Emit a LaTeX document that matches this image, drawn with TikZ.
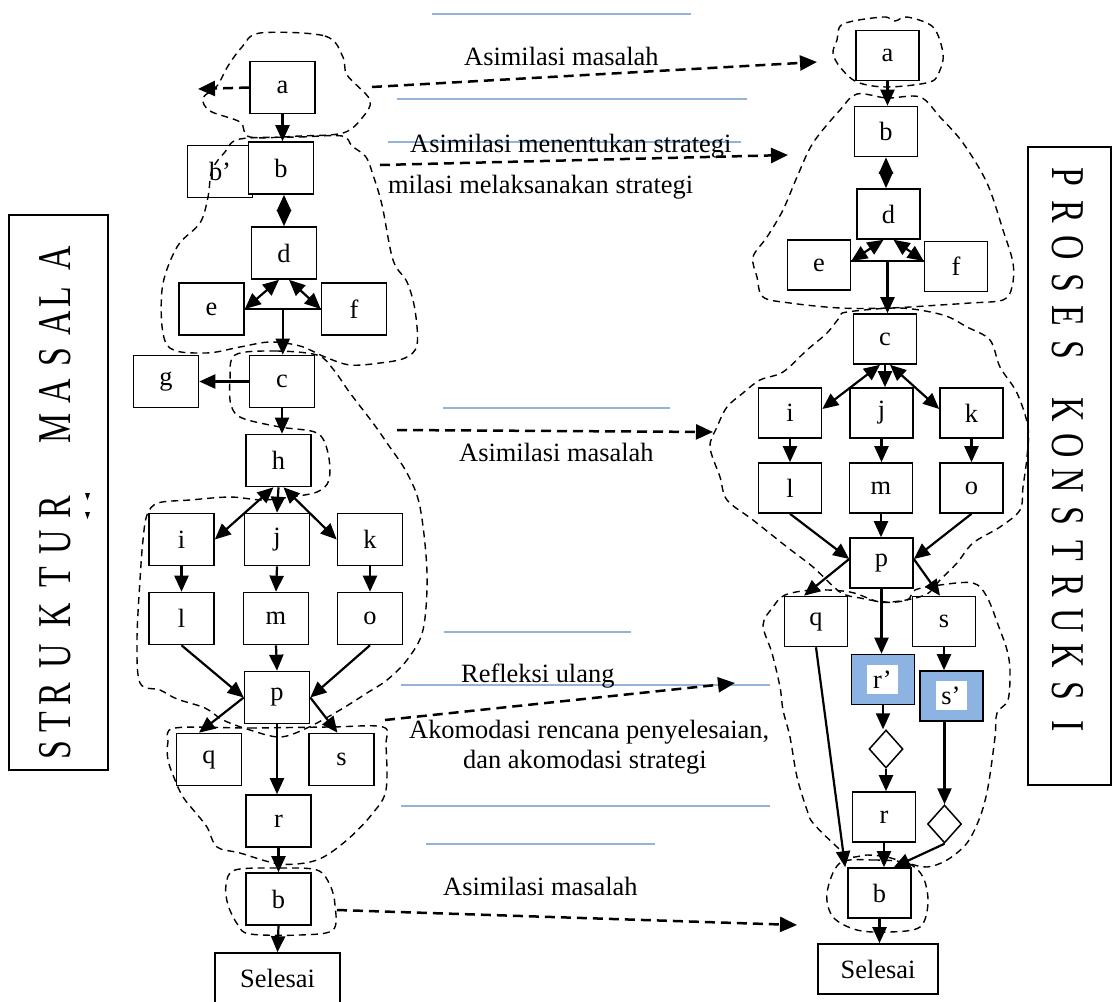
\documentclass[tikz,border=0pt]{standalone}
\usepackage{fontspec}
\setmainfont{Liberation Serif}
\usetikzlibrary{arrows.meta,shapes.geometric,calc}
\definecolor{lineblue}{RGB}{149,179,215}
\definecolor{fillblue}{RGB}{141,179,226}
\newcommand\lblfont{\fontsize{26.4}{30}\selectfont}
\newcommand\sidefont{\fontsize{47}{50}\selectfont}
\begin{document}
\begin{tikzpicture}[x=1pt,y=-1pt,
  box/.style={draw, line width=1.6pt, fill=white, inner sep=0pt, font=\lblfont, minimum width=65pt, minimum height=52pt},
  rbox/.style={box, minimum width=63pt, minimum height=50pt},
  bluebox/.style={rbox, fill=fillblue},
  inlay/.style={fill=white, inner sep=0pt, font=\lblfont, minimum width=31pt, minimum height=29pt},
  dia/.style={draw, diamond, line width=1.5pt, fill=white, inner sep=0pt, minimum width=34pt, minimum height=38pt},
  conn/.style={line width=2.2pt, -{Triangle[length=16pt,width=14pt]}},
  biconn/.style={line width=2.2pt, {Triangle[length=16pt,width=14pt]}-{Triangle[length=16pt,width=14pt]}},
  link/.style={line width=2.2pt},
  flow/.style={line width=2.5pt, dash pattern=on 10pt off 6pt, -{Triangle[length=17pt,width=15pt]}},
  group/.style={line width=1.4pt, dash pattern=on 7pt off 5pt, smooth cycle, tension=0.55},
  rule/.style={line width=2pt, draw=lineblue},
  caption/.style={font=\lblfont, inner sep=0pt, anchor=base west},
  sideletter/.style={font=\sidefont, inner sep=0pt},
  frame/.style={draw, line width=1.5pt, inner sep=0pt},
]
\useasboundingbox (0,0) rectangle (1112,1002);

% side frames with spaced vertical titles
\node[frame, minimum width=99pt, minimum height=555pt] (leftframe) at (58.5,492.5) {};
\node[frame, minimum width=83pt, minimum height=638pt] (rightframe) at (1069.5,466) {};
\foreach \ch/\yy [count=\n] in {S/750,T/722,R/694,U/656,K/615,T/577,U/542,R/507,M/428,A/391,S/357,A/323,L/297,A/258}
  \node[sideletter, rotate=90] (ltitle\n) at (55,\yy) {\scalebox{0.72}[1]{\ch}};
\foreach \ch/\yy [count=\n] in {P/177,R/212,O/248,S/283,E/316,S/350,K/410,O/446,N/481,S/516,T/551,R/586,U/621,K/656,S/691,I/726}
  \node[sideletter, rotate=-90] (rtitle\n) at (1068,\yy) {\scalebox{0.72}[1]{\ch}};
\fill (85,493) -- (90,493) -- (87.5,500) -- cycle;
\fill (85,512) -- (90,512) -- (87.5,519) -- cycle;

% blue rules
\draw[rule] (432,14) -- (691,14);
\draw[rule] (397,99) -- (747,99);
\draw[rule] (388,142) -- (741,142);
\draw[rule] (443,408) -- (670,408);
\draw[rule] (444,632) -- (631,632);
\draw[rule] (401,685) -- (770,685);
\draw[rule] (401,806) -- (770,806);
\draw[rule] (426,844) -- (655,844);

% captions
\node[caption] (c1) at (464,65) {Asimilasi masalah};
\node[caption] (c2) at (410,152) {Asimilasi menentukan strategi};
\node[caption] (c3) at (388,193) {milasi melaksanakan strategi};
\node[caption] (c4) at (459,461) {Asimilasi masalah};
\node[caption] (c5) at (461,682) {Refleksi ulang};
\node[caption] (c6) at (409,738) {Akomodasi rencana penyelesaian,};
\node[caption] (c7) at (463,768) {dan akomodasi strategi};
\node[caption] (c8) at (443,895) {Asimilasi masalah};

% left structure
\node[box] (La) at (282.5,87.5) {a};
\node[box] (Lbq) at (220,171.5) {b’};
\node[box] (Lb) at (281,168) {b};
\node[box] (Ld) at (284,253) {d};
\node[box] (Le) at (211.5,309) {e};
\node[box] (Lf) at (354,309) {f};
\node[box] (Lc) at (282,381.5) {c};
\node[box] (Lg) at (166,381.5) {g};
\node[box] (Lh) at (278.5,460.5) {h};
\node[box] (Li) at (181.5,539.5) {i};
\node[box] (Lj) at (277,539.5) {j};
\node[box] (Lk) at (370,539.5) {k};
\node[box] (Ll) at (181.5,618.5) {l};
\node[box] (Lm) at (276,618.5) {m};
\node[box] (Lo) at (370,618.5) {o};
\node[box] (Lp) at (277,697.5) {p};
\node[box] (Lq) at (209,759.5) {q};
\node[box] (Ls) at (341.5,759.5) {s};
\node[box] (Lr) at (278.5,821) {r};
\node[box] (Lb2) at (278.5,899) {b};
\node[box, minimum width=125pt, minimum height=50pt] (Lend) at (277.5,978) {Selesai};

\draw[conn] (La.south) -- (La.south |- Lb.north);
\draw[biconn] (Ld.north |- Lb.south) -- (Ld.north);
\draw[link] (Le.east) -- (Lf.west);
\draw[biconn] ([xshift=-5pt]Ld.south) -- (Le.east);
\draw[biconn] ([xshift=5pt]Ld.south) -- (Lf.west);
\coordinate (Ldef) at ($(Le.east)!0.5!(Lf.west)$);
\draw[conn] (Ldef) -- (Ldef |- Lc.north);
\draw[conn] (Lc.west) -- (Lg.east);
\draw[conn] (Lc.south) -- (Lc.south |- Lh.north);
\draw[biconn] ([xshift=-5pt]Lh.south) -- (Li.east);
\draw[conn] (Lh.south) -- (Lj.north);
\draw[biconn] ([xshift=5pt]Lh.south) -- (Lk.west);
\draw[conn] (Li.south) -- (Ll.north);
\draw[conn] (Lj.south) -- (Lm.north);
\draw[conn] (Lk.south) -- (Lo.north);
\draw[conn] (Ll.south) -- (Lp.west);
\draw[conn] (Lm.south) -- (Lp.north);
\draw[conn] (Lo.south) -- (Lp.east);
\draw[conn] (Lp.west) -- ([xshift=-10pt]Lq.north);
\draw[conn] (Lp.east) -- ([xshift=-4pt]Ls.north);
\draw[conn] (Lp.south) -- (Lp.south |- Lr.north);
\draw[conn] (Lr.south) -- (Lb2.north);
\draw[conn] (Lb2.south) -- (Lend.north);

% right construction
\node[rbox] (Ra) at (887.5,55.5) {a};
\node[rbox] (Rb) at (886,131.5) {b};
\node[rbox] (Rd) at (888.5,214) {d};
\node[rbox] (Re) at (819,265) {e};
\node[rbox] (Rf) at (956,266.5) {f};
\node[rbox] (Rc) at (885,339) {c};
\node[rbox] (Ri) at (790,413) {i};
\node[rbox] (Rj) at (881.5,413) {j};
\node[rbox] (Rk) at (971.5,413) {k};
\node[rbox] (Rl) at (790,488) {l};
\node[rbox] (Rm) at (881,488) {m};
\node[rbox] (Ro) at (971.5,488) {o};
\node[rbox] (Rp) at (881.5,563) {p};
\node[rbox] (Rq) at (816,621.5) {q};
\node[rbox] (Rs) at (944,621.5) {s};
\node[bluebox] (Rrp) at (883,679.5) {};
\node[inlay] (Rrpt) at (882.5,679.5) {r’};
\node[bluebox] (Rsp) at (951.5,696) {};
\node[inlay] (Rspt) at (951,695.5) {s’};
\node[dia] (Rk1) at (886,749) {};
\node[rbox] (Rr) at (884,817) {r};
\node[dia] (Rk2) at (944.5,824) {};
\node[rbox] (Rb2) at (879.5,893) {b};
\node[rbox, minimum width=120pt] (Rend) at (878,969) {Selesai};

\draw[conn] (Ra.south) -- (Ra.south |- Rb.north);
\draw[line width=2.2pt, {Triangle[length=16.5pt,width=14pt]}-{Triangle[length=16.5pt,width=14pt]}] (Rb.south) -- (Rb.south |- Rd.north);
\coordinate (Reo) at ([yshift=4pt]Re.east);
\coordinate (Rfo) at (Rf.west |- Reo);
\draw[link] (Reo) -- (Rfo);
\draw[biconn] ([xshift=-5pt]Rd.south) -- (Reo);
\draw[biconn] ([xshift=5pt]Rd.south) -- (Rfo);
\coordinate (Rdef) at ($(Reo)!0.5!(Rfo)$);
\draw[conn] (Rdef) -- (Rdef |- Rc.north);
\draw[biconn] ([xshift=-5pt]Rc.south) -- ([yshift=4pt]Ri.east);
\draw[conn] (Rc.south) -- (Rc.south |- Rj.north);
\draw[biconn] ([xshift=5pt]Rc.south) -- ([yshift=4pt]Rk.west);
\draw[conn] (Ri.south) -- (Rl.north);
\draw[conn] (Rj.south) -- (Rj.south |- Rm.north);
\draw[conn] (Rk.south) -- (Ro.north);
\draw[conn] (Rl.south) -- ([yshift=4pt]Rp.west);
\draw[conn] (Rm.south) -- (Rm.south |- Rp.north);
\draw[conn] (Ro.south) -- ([yshift=4pt]Rp.east);
\draw[conn] ([yshift=4pt]Rp.west) -- ([xshift=-12pt]Rq.north);
\draw[conn] ([yshift=4pt]Rp.east) -- ([xshift=-4pt]Rs.north);
\draw[conn] (Rp.south) -- (Rp.south |- Rrp.north);
\draw[conn] (Rs.south) -- (Rs.south |- Rsp.north);
\draw[conn] (Rrp.south) -- (Rrp.south |- Rk1.north);
\draw[conn] (Rk1.south) -- (Rk1.south |- Rr.north);
\draw[conn] (Rk2.north |- Rsp.south) -- (Rk2.north);
\draw[conn] (Rr.south) -- (Rr.south |- Rb2.north);
\draw[conn] (Rq.south) -- ([xshift=-2pt]Rb2.north west);
\draw[conn] (Rk2.south) -- ([xshift=-18pt]Rb2.north east);
\draw[conn] (Rb2.south) -- (Rb2.south |- Rend.north);

% grouping outlines
\draw[group] plot coordinates {(260,33) (325,36) (343,57) (347,75) (370,100) (362,118) (343,133) (300,136) (250,137) (240,122) (210,111) (203,98) (217,86) (228,66) (242,47)};
\draw[group] plot coordinates {(240,139) (300,137) (342,136) (352,146) (366,157) (373,175) (382,205) (393,260) (407,282) (415,310) (417,345) (405,358) (380,363) (350,365) (325,357) (300,346) (270,342) (240,347) (205,353) (167,345) (162,290) (177,247) (200,223) (208,197) (212,170) (225,152)};
\draw[group] plot coordinates {(235,355) (275,351) (317,355) (333,369) (350,393) (373,423) (387,443) (407,473) (420,507) (427,573) (423,630) (407,660) (387,680) (367,693) (340,710) (307,728) (280,737) (250,730) (223,720) (205,708) (177,699) (160,690) (140,683) (137,640) (140,580) (143,540) (147,515) (158,503) (190,500) (230,497) (262,500) (290,497) (317,492) (329,480) (328,453) (317,433) (280,427) (242,418) (231,405) (230,380)};
\draw[group] plot coordinates {(175,728) (250,728) (330,727) (383,727) (386,745) (386,790) (373,813) (347,840) (317,860) (280,864) (240,853) (217,847) (207,827) (195,812) (183,797) (175,780) (168,760) (168,742)};
\draw[group] plot coordinates {(235,870) (280,868) (317,870) (330,885) (335,905) (333,930) (300,935) (250,934) (238,925) (228,905) (226,885)};
\draw[group] plot coordinates {(843,24) (883,17) (895,21) (907,17) (933,27) (943,53) (940,70) (930,82) (887,87) (857,82) (840,67) (833,53) (837,40)};
\draw[group] plot coordinates {(857,94) (887,98) (920,97) (940,117) (963,143) (987,183) (1003,230) (1013,263) (1012,287) (1003,300) (970,303) (940,305) (890,308) (840,308) (790,303) (763,297) (757,277) (753,257) (767,237) (783,210) (797,177) (813,143) (840,110)};
\draw[group] plot coordinates {(847,312) (900,308) (943,315) (967,327) (990,340) (1000,367) (1017,393) (1028,427) (1027,457) (1023,487) (1020,510) (1000,527) (973,543) (957,563) (940,580) (925,595) (890,602) (860,598) (840,592) (813,567) (787,547) (753,520) (727,500) (720,477) (710,447) (717,427) (727,407) (743,393) (760,380) (783,372) (807,350) (827,333) (840,317)};
\draw[group] plot coordinates {(785,595) (813,590) (850,592) (880,602) (907,600) (915,590) (940,585) (973,583) (987,597) (1000,630) (1007,650) (1010,670) (1008,700) (997,713) (995,737) (988,787) (980,817) (967,843) (947,860) (927,867) (907,863) (887,857) (867,855) (850,857) (837,847) (813,823) (807,810) (797,777) (790,737) (783,710) (780,687) (772,653) (763,625) (773,607)};
\draw[group] plot coordinates {(840,863) (873,860) (907,863) (923,877) (928,903) (920,927) (890,932) (857,930) (833,917) (827,893)};

% transfer arrows between the two structures
\coordinate (aleft) at (198,89);
\draw[flow] (La.west) -- (aleft);
\coordinate (f1s) at (372,87);  \coordinate (f1e) at (817,62);
\coordinate (f2s) at (380,165); \coordinate (f2e) at (788,155);
\coordinate (f3s) at (397,430); \coordinate (f3e) at (713,432);
\coordinate (f4s) at (385,720); \coordinate (f4e) at (735,683);
\coordinate (f5s) at (337,910); \coordinate (f5e) at (797,925);
\draw[flow] (f1s) -- (f1e);
\draw[flow] (f2s) -- (f2e);
\draw[flow] (f3s) -- (f3e);
\draw[flow] (f4s) -- (f4e);
\draw[flow] (f5s) -- (f5e);
\end{tikzpicture}
\end{document}
